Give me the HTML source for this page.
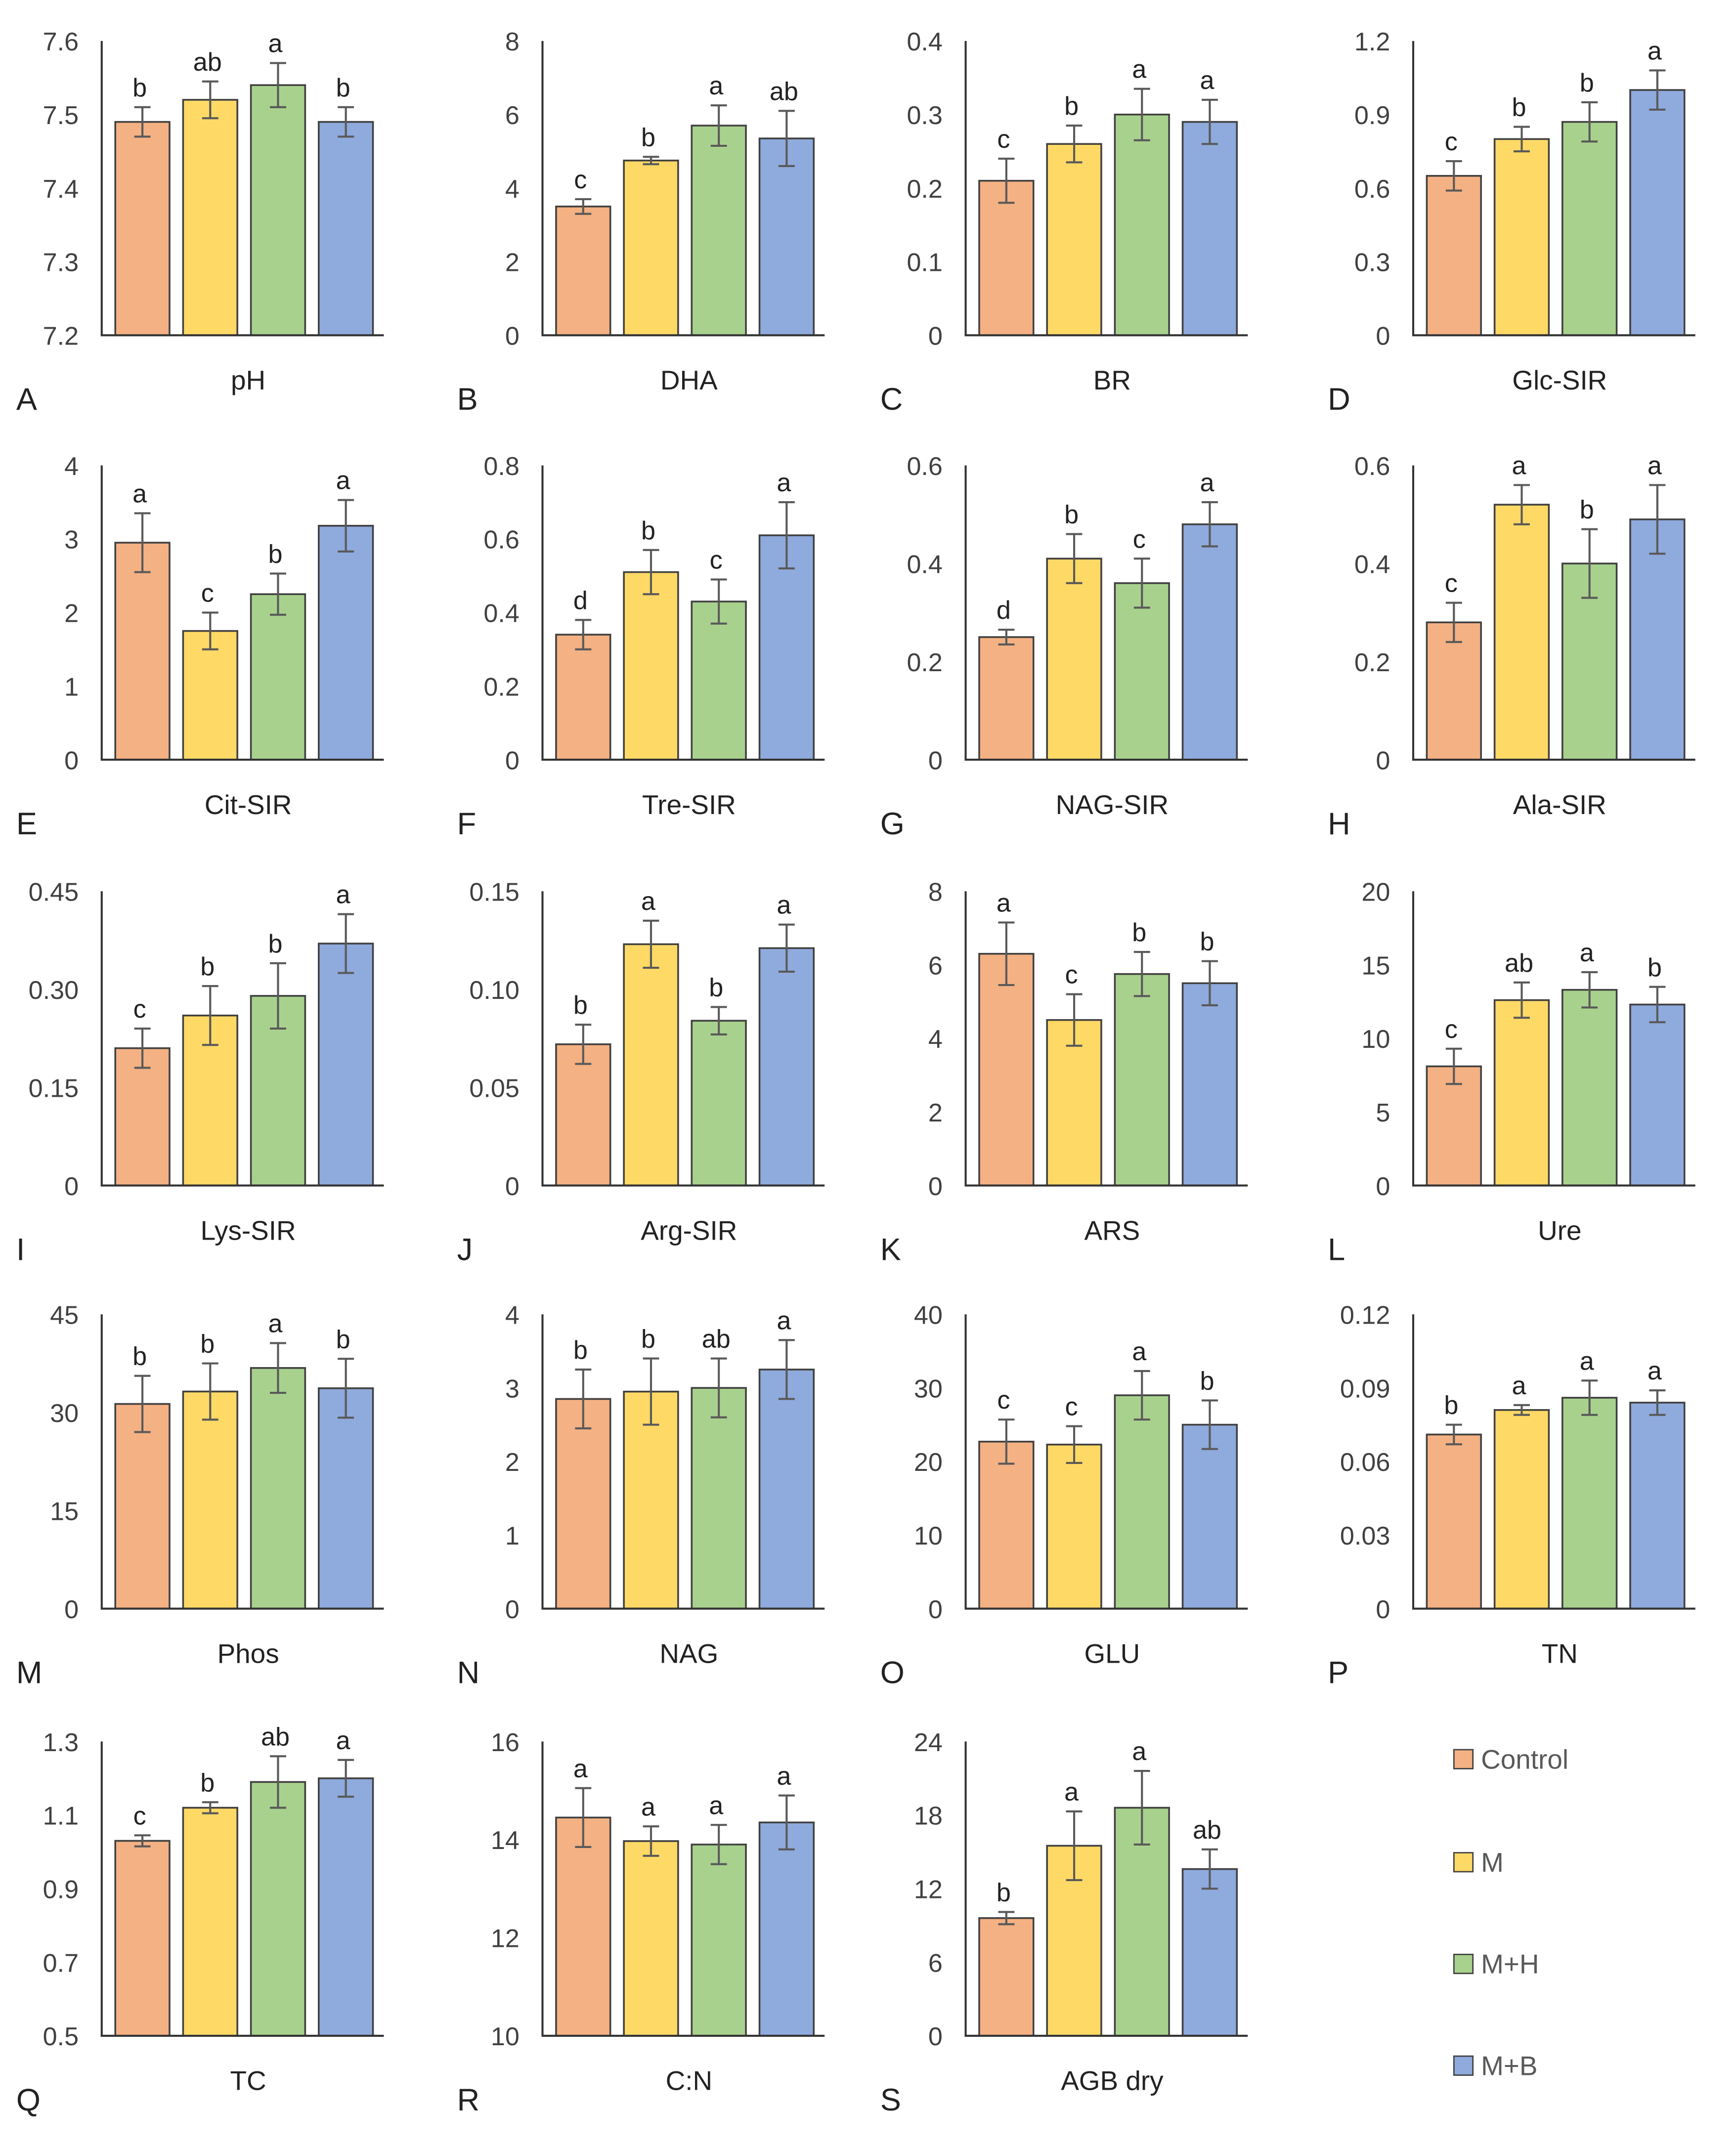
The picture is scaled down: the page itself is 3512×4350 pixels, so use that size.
<!DOCTYPE html>
<html><head><meta charset="utf-8"><style>
html,body{margin:0;padding:0;background:#fff}
svg{display:block}
text{font-family:"Liberation Sans","DejaVu Sans",sans-serif}
</style></head><body>
<svg id="fig" xmlns="http://www.w3.org/2000/svg" width="3512" height="4350" viewBox="0 0 1280 1585">
<rect width="1280" height="1585" fill="#fff"/>
<g id="legend">
<rect x="1072" y="1290" width="14" height="14" fill="#F4B183" stroke="#404040"/>
<text x="1092" y="1304" font-size="20" fill="#595959">Control</text>
<rect x="1072" y="1366" width="14" height="14" fill="#FFD966" stroke="#404040"/>
<text x="1092" y="1380" font-size="20" fill="#595959">M</text>
<rect x="1072" y="1441" width="14" height="14" fill="#A9D18E" stroke="#404040"/>
<text x="1092" y="1455" font-size="20" fill="#595959">M+H</text>
<rect x="1072" y="1516" width="14" height="14" fill="#8FAADC" stroke="#404040"/>
<text x="1092" y="1530" font-size="20" fill="#595959">M+B</text>
</g>
</svg>
<script>
const panelNames=["pH","DHA","BR","Glc-SIR","Cit-SIR","Tre-SIR","NAG-SIR","Ala-SIR","Lys-SIR","Arg-SIR","ARS","Ure","Phos","NAG","GLU","TN","TC","C:N","AGB dry"];
const panelLetters=["A","B","C","D","E","F","G","H","I","J","K","L","M","N","O","P","Q","R","S"];
const yMins=[7.2,0,0,0,0,0,0,0,0,0,0,0,0,0,0,0,0.5,10,0];
const yMaxs=[7.6,8,0.4,1.2,4,0.8,0.6,0.6,0.45,0.15,8,20,45,4,40,0.12,1.3,16,24];
const tickLabels=[
["7.2","7.3","7.4","7.5","7.6"],["0","2","4","6","8"],["0","0.1","0.2","0.3","0.4"],["0","0.3","0.6","0.9","1.2"],
["0","1","2","3","4"],["0","0.2","0.4","0.6","0.8"],["0","0.2","0.4","0.6"],["0","0.2","0.4","0.6"],
["0","0.15","0.30","0.45"],["0","0.05","0.10","0.15"],["0","2","4","6","8"],["0","5","10","15","20"],
["0","15","30","45"],["0","1","2","3","4"],["0","10","20","30","40"],["0","0.03","0.06","0.09","0.12"],
["0.5","0.7","0.9","1.1","1.3"],["10","12","14","16"],["0","6","12","18","24"]];
const controlVals=[7.49,3.5,0.21,0.65,2.95,0.34,0.25,0.28,0.21,0.072,6.3,8.1,31.3,2.85,22.7,0.071,1.03,14.45,9.6];
const mVals=[7.52,4.75,0.26,0.80,1.75,0.51,0.41,0.52,0.26,0.123,4.5,12.6,33.2,2.95,22.3,0.081,1.12,13.97,15.5];
const mhVals=[7.54,5.7,0.30,0.87,2.25,0.43,0.36,0.40,0.29,0.084,5.75,13.3,36.8,3.0,29,0.086,1.19,13.9,18.6];
const mbVals=[7.49,5.35,0.29,1.0,3.18,0.61,0.48,0.49,0.37,0.121,5.5,12.3,33.7,3.25,25,0.084,1.2,14.35,13.6];
const controlErr=[0.02,0.2,0.03,0.06,0.4,0.04,0.015,0.04,0.03,0.01,0.85,1.2,4.3,0.4,3,0.004,0.015,0.6,0.5];
const mErr=[0.025,0.1,0.025,0.05,0.25,0.06,0.05,0.04,0.045,0.012,0.7,1.2,4.3,0.45,2.5,0.002,0.015,0.3,2.8];
const mhErr=[0.03,0.55,0.035,0.08,0.28,0.06,0.05,0.07,0.05,0.007,0.6,1.2,3.8,0.4,3.3,0.007,0.07,0.4,3];
const mbErr=[0.02,0.75,0.03,0.08,0.35,0.09,0.045,0.07,0.045,0.012,0.6,1.2,4.5,0.4,3.3,0.005,0.05,0.55,1.6];
const sigLetters=[["b","ab","a","b"],["c","b","a","ab"],["c","b","a","a"],["c","b","b","a"],["a","c","b","a"],["d","b","c","a"],["d","b","c","a"],["c","a","b","a"],["c","b","b","a"],["b","a","b","a"],["a","c","b","b"],["c","ab","a","b"],["b","b","a","b"],["b","b","ab","a"],["c","c","a","b"],["b","a","a","a"],["c","b","ab","a"],["a","a","a","a"],["b","a","a","ab"]];
const seriesColors=["#F4B183","#FFD966","#A9D18E","#8FAADC"];
const seriesKeys=["control","m","mh","mb"];

const NS="http://www.w3.org/2000/svg";
const svg=document.getElementById("fig");
function mk(tag,attrs,parent){const e=document.createElementNS(NS,tag);for(const k in attrs)e.setAttribute(k,attrs[k]);parent.appendChild(e);return e;}
const colX=[75,400,712,1042];
const rowTop=[30,343,657,969,1284];
const plotH=217, plotW=205;
for(let p=0;p<panelNames.length;p++){
  const col=p%4,row=Math.floor(p/4);
  const ax=colX[col], top=rowTop[row], base=top+plotH;
  const g=mk("g",{},svg);
  
  
  const y=v=>base-(v-yMins[p])/(yMaxs[p]-yMins[p])*plotH;
  const ticks=tickLabels[p];
  ticks.forEach((t,i)=>{
    const ty=base-i/(ticks.length-1)*plotH;
    const tx=mk("text",{x:ax-17,y:ty+7,"font-size":19,"text-anchor":"end",fill:"#404040"},g);
    
    
    tx.textContent=t;
  });
  const vals=[controlVals[p],mVals[p],mhVals[p],mbVals[p]];
  const errs=[controlErr[p],mErr[p],mhErr[p],mbErr[p]];
  for(let s=0;s<4;s++){
    const bx=ax+10+s*50, by=y(vals[s]);
    const r=mk("rect",{x:bx,y:by,width:40,height:base-by,fill:seriesColors[s],stroke:"#404040","stroke-width":1.3},g);
    
    
    const cx=bx+20, hi=y(vals[s]+errs[s]), lo=y(vals[s]-errs[s]);
    const eb=mk("path",{d:`M${cx},${hi}V${lo}M${cx-6},${hi}H${cx+6}M${cx-6},${lo}H${cx+6}`,stroke:"#595959","stroke-width":1.5,fill:"none"},g);
    
    
    const lt=mk("text",{x:cx-2,y:hi-8,"font-size":19,"text-anchor":"middle",fill:"#222"},g);
    
    
    lt.textContent=sigLetters[p][s];
  }
  const axl=mk("path",{d:`M${ax},${top}V${base}H${ax+plotW+3}`,stroke:"#333","stroke-width":1.5,fill:"none"},g);
  
  
  const cl=mk("text",{x:ax+108,y:base+40,"font-size":20,"text-anchor":"middle",fill:"#222"},g);
  
  
  cl.textContent=panelNames[p];
  const pl=mk("text",{x:ax-63,y:base+55,"font-size":23,fill:"#222"},g);
  
  
  pl.textContent=panelLetters[p];
}
</script>
</body></html>
